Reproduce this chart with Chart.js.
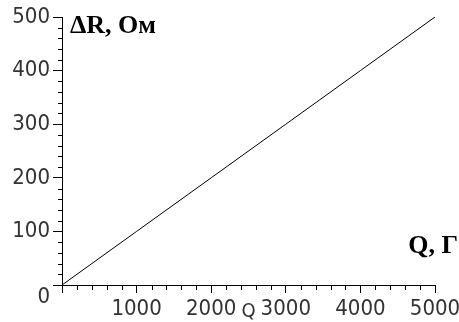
<!DOCTYPE html>
<html>
<head>
<meta charset="utf-8">
<style>
  html, body { margin: 0; padding: 0; background: #fff; }
  #wrap { width: 459px; height: 322px; }
</style>
<script src="https://cdn.jsdelivr.net/npm/chart.js@4/dist/chart.umd.min.js"></script>
</head>
<body>
<div id="wrap"><canvas id="c" width="459" height="322"></canvas></div>
<script>
// Resistance change versus load
const qValues = [0, 1000, 2000, 3000, 4000, 5000];
const deltaR  = [0, 100, 200, 300, 400, 500];

// Axis tick marks
const xMajorTicks = [0, 1000, 2000, 3000, 4000, 5000];
const yMajorTicks = [0, 100, 200, 300, 400, 500];
const xMinorStep = 200;
const yMinorStep = 20;

const yLabel = 'ΔR, Ом';
const xLabel = 'Q, Г';
const xAxisName = 'Q';

const tickFamily = '"DejaVu Sans Condensed", "Liberation Sans", sans-serif';
const tickFont = { family: tickFamily, size: 22, lineHeight: 1.1 };
const textColor = '#333';

// Short unlabeled ticks between the labeled ones, plus the corner labels
const extrasPlugin = {
  id: 'extras',
  afterDraw(chart) {
    const ctx = chart.ctx;
    const xs = chart.scales.x, ys = chart.scales.y;
    const area = chart.chartArea;
    ctx.save();
    ctx.strokeStyle = '#000';
    ctx.lineWidth = 1;
    ctx.beginPath();
    for (let v = xs.min; v <= xs.max; v += xMinorStep) {
      if (v % 1000 === 0) continue;
      const px = Math.round(xs.getPixelForValue(v)) + 0.5;
      ctx.moveTo(px, area.bottom);
      ctx.lineTo(px, area.bottom + 5);
    }
    for (let v = ys.min; v <= ys.max; v += yMinorStep) {
      if (v % 100 === 0) continue;
      const py = Math.round(ys.getPixelForValue(v)) + 0.5;
      ctx.moveTo(area.left - 4, py);
      ctx.lineTo(area.left, py);
    }
    ctx.stroke();

    ctx.fillStyle = '#000';
    ctx.font = 'bold 26px "Liberation Serif", "DejaVu Serif", serif';
    ctx.textBaseline = 'alphabetic';
    ctx.textAlign = 'left';
    ctx.fillText(yLabel, area.left + 8, 33);
    ctx.textAlign = 'right';
    ctx.fillText(xLabel, chart.width - 1, 253);

    ctx.fillStyle = textColor;
    ctx.font = '20px ' + tickFamily;
    ctx.textAlign = 'center';
    ctx.fillText(xAxisName, (area.left + area.right) / 2, 317);
    ctx.restore();
  }
};

new Chart(document.getElementById('c'), {
  type: 'line',
  data: {
    datasets: [{
      data: qValues.map((q, i) => ({ x: q, y: deltaR[i] })),
      borderColor: '#000',
      borderWidth: 1,
      pointRadius: 0,
      tension: 0,
      fill: false
    }]
  },
  options: {
    responsive: false,
    animation: false,
    events: [],
    layout: { padding: { top: 17, right: 24, left: 0, bottom: 0 } },
    plugins: { legend: { display: false }, tooltip: { enabled: false }, title: { display: false } },
    scales: {
      x: {
        type: 'linear',
        min: 0, max: 5000,
        afterBuildTicks: s => { s.ticks = xMajorTicks.map(v => ({ value: v })); },
        afterFit: s => { s.height = 37; s.paddingLeft = 0; s.paddingRight = 0; },
        border: { display: true, color: '#000', width: 1 },
        grid: { display: true, drawOnChartArea: false, drawTicks: true, tickLength: 8, tickColor: '#000' },
        ticks: {
          autoSkip: false, maxRotation: 0, padding: 4,
          color: textColor, font: tickFont,
          callback: v => (v === 0 ? '' : String(v))
        }
      },
      y: {
        type: 'linear',
        min: 0, max: 500,
        afterBuildTicks: s => { s.ticks = yMajorTicks.map(v => ({ value: v })); },
        afterFit: s => { s.width = 62; s.paddingTop = 0; s.paddingBottom = 0; },
        border: { display: true, color: '#000', width: 1 },
        grid: { display: true, drawOnChartArea: false, drawTicks: true, tickLength: 9, tickColor: '#000' },
        ticks: {
          autoSkip: false, padding: 3,
          color: textColor, font: tickFont,
          callback: v => (v === 0 ? ['', '0'] : String(v))
        }
      }
    }
  },
  plugins: [extrasPlugin]
});
</script>
</body>
</html>
